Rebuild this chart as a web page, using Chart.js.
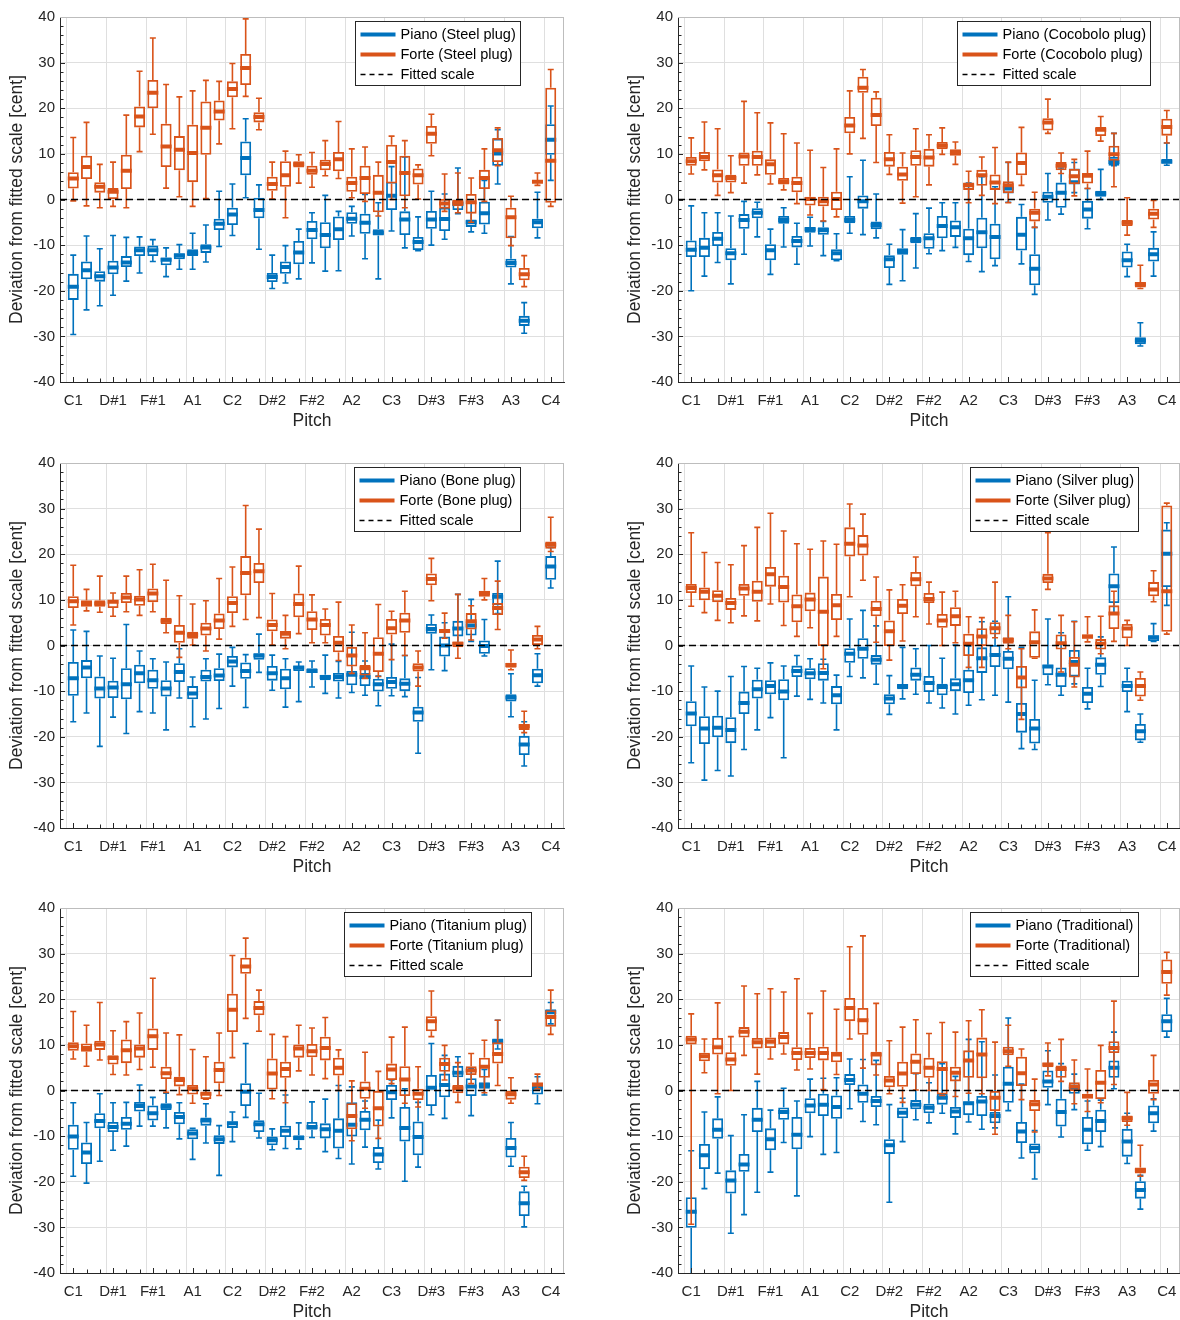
<!DOCTYPE html>
<html><head><meta charset="utf-8">
<script src="https://cdn.jsdelivr.net/npm/chart.js@4.4.1/dist/chart.umd.min.js"></script>
<style>
html,body{margin:0;padding:0;background:#fff;overflow:hidden;}
#wrap{position:relative;width:1180px;height:1320px;overflow:hidden;}
.cell{position:absolute;height:440px;}
canvas{display:block;}
</style></head><body>
<div id="wrap">
<div class="cell" style="left:0;top:0;width:590px"><canvas id="c0" width="590" height="440"></canvas></div>
<div class="cell" style="left:590px;top:0;width:600px"><canvas id="c1" width="600" height="440"></canvas></div>
<div class="cell" style="left:0;top:446px;width:590px"><canvas id="c2" width="590" height="440"></canvas></div>
<div class="cell" style="left:590px;top:446px;width:600px"><canvas id="c3" width="600" height="440"></canvas></div>
<div class="cell" style="left:0;top:891px;width:590px"><canvas id="c4" width="590" height="440"></canvas></div>
<div class="cell" style="left:590px;top:891px;width:600px"><canvas id="c5" width="600" height="440"></canvas></div>
</div>
<script>
// ---------- DATA ----------
const PITCHES = ['C1','C#1','D1','D#1','E1','F1','F#1','G1','G#1','A1','A#1','B1',
  'C2','C#2','D2','D#2','E2','F2','F#2','G2','G#2','A2','A#2','B2',
  'C3','C#3','D3','D#3','E3','F3','F#3','G3','G#3','A3','A#3','B3','C4'];
const TICK_LABELS = ['C1','D#1','F#1','A1','C2','D#2','F#2','A2','C3','D#3','F#3','A3','C4'];
const FITTED_SCALE = 0;
// each row: [lower whisker, Q1, median, Q3, upper whisker] in cent, one row per pitch
const steelPiano = [[-29.6,-22.0,-19.1,-16.3,-12.2],[-24.2,-17.5,-15.5,-13.6,-8.0],[-23.3,-18.0,-16.8,-15.7,-10.8],[-21.0,-16.4,-14.9,-13.4,-7.9],[-17.9,-14.8,-13.8,-12.4,-8.3],[-16.1,-12.4,-11.1,-10.3,-8.2],[-13.6,-12.4,-11.1,-10.1,-8.8],[-16.9,-14.4,-13.2,-12.7,-10.6],[-15.3,-13.1,-12.3,-11.8,-9.9],[-15.3,-12.4,-11.7,-10.9,-7.4],[-13.7,-11.7,-10.5,-9.8,-5.6],[-10.3,-6.7,-5.3,-4.2,1.8],[-7.9,-5.6,-3.3,-1.8,3.4],[0.4,5.3,9.1,12.7,17.7],[-10.9,-4.1,-2.3,0.4,3.2],[-19.5,-18.1,-17.0,-16.1,-12.2],[-18.3,-16.3,-14.8,-13.6,-10.1],[-17.4,-14.2,-11.6,-9.1,-6.5],[-13.9,-8.7,-6.7,-4.7,-2.9],[-15.7,-10.7,-7.8,-5.0,0.9],[-15.6,-8.9,-6.5,-3.7,-2.6],[-8.0,-5.3,-4.2,-2.8,-1.5],[-13.0,-7.5,-5.1,-3.1,1.1],[-17.4,-7.9,-7.3,-6.5,-0.7],[-6.9,-2.3,0.8,3.9,7.2],[-10.6,-7.8,-4.4,-2.6,9.3],[-11.2,-11.1,-9.3,-8.2,-3.8],[-10.0,-6.4,-4.4,-2.5,1.8],[-8.7,-6.9,-4.3,-1.8,1.2],[-3.1,-2.3,-1.0,-0.1,6.9],[-7.1,-6.0,-5.0,-4.4,-0.5],[-7.4,-5.5,-3.0,-0.5,4.2],[3.4,7.4,10.1,13.3,15.3],[-18.5,-14.9,-13.9,-13.0,-8.1],[-29.3,-27.7,-26.6,-25.5,-22.6],[-8.4,-6.3,-5.0,-4.2,1.6],[4.2,9.8,13.1,16.5,20.5]];
const steelForte = [[-0.3,2.4,4.6,6.0,13.6],[-1.4,4.5,7.1,9.6,16.9],[-1.8,1.5,2.8,3.8,7.7],[-1.5,0.0,1.7,2.5,8.2],[-1.8,2.3,6.3,9.8,18.5],[10.5,15.8,18.2,20.4,28.1],[14.3,20.0,23.4,26.2,35.4],[2.5,7.1,11.6,16.6,25.2],[0.6,6.4,10.9,13.9,22.5],[-1.5,3.8,10.2,16.4,23.8],[0.2,9.8,15.7,21.5,26.1],[12.2,17.3,19.3,21.7,25.9],[15.5,22.4,24.2,25.9,29.8],[22.6,25.1,28.8,31.9,39.6],[15.3,16.9,18.1,19.1,22.2],[0.1,1.9,3.4,5.0,8.2],[-4.0,2.8,5.3,8.4,10.6],[3.6,7.0,7.7,8.4,9.8],[2.7,5.4,6.3,7.4,10.3],[5.2,6.4,7.8,8.7,12.9],[4.6,6.2,8.8,10.4,17.1],[0.4,1.7,3.6,5.0,11.1],[-0.4,1.2,4.7,7.4,11.5],[-3.6,-2.8,1.5,5.4,8.2],[0.0,3.5,8.2,12.0,13.9],[-1.8,0.7,5.8,9.6,12.9],[0.1,3.3,5.3,6.8,7.6],[9.6,12.2,14.4,16.1,18.7],[-2.6,-2.0,-0.9,0.1,5.6],[-2.9,-1.5,-0.7,0.0,5.8],[-5.0,-3.1,-0.6,1.2,4.7],[-0.4,2.3,4.7,6.5,11.1],[7.4,8.2,10.8,13.5,15.7],[-10.1,-8.5,-3.9,-1.8,0.7],[-19.1,-17.7,-16.4,-15.0,-12.3],[3.1,3.6,3.9,4.2,5.8],[-1.5,-0.7,8.5,24.5,28.5]];
const cocoboloPiano = [[-20.0,-12.6,-11.0,-9.0,-1.4],[-16.8,-12.6,-10.6,-8.4,-2.9],[-13.8,-10.2,-8.6,-7.1,-2.9],[-18.5,-13.3,-11.8,-10.7,-3.6],[-12.0,-6.4,-4.5,-3.2,-0.4],[-8.2,-4.1,-2.9,-1.9,-0.6],[-16.4,-13.3,-11.1,-9.8,-6.5],[-10.4,-5.3,-4.5,-3.6,-1.8],[-14.2,-10.5,-9.1,-8.0,-5.2],[-10.2,-7.3,-6.5,-6.0,-3.9],[-12.3,-7.7,-6.7,-6.1,-4.8],[-13.4,-13.3,-11.8,-10.9,-7.5],[-7.4,-5.2,-4.5,-3.6,5.0],[-7.7,-2.0,-0.4,0.9,8.6],[-8.4,-6.5,-5.6,-4.8,1.2],[-18.6,-15.0,-13.1,-12.2,-9.8],[-17.8,-12.1,-11.3,-10.7,-6.6],[-15.0,-9.6,-8.9,-8.2,-3.1],[-11.9,-10.8,-8.5,-7.4,-1.9],[-11.2,-8.5,-5.8,-3.6,-0.7],[-10.5,-8.2,-6.1,-4.6,-0.7],[-13.6,-12.2,-8.5,-6.4,3.6],[-15.8,-10.7,-7.2,-4.0,5.0],[-14.5,-13.1,-8.2,-5.3,2.8],[-0.6,1.3,2.4,2.8,8.1],[-14.1,-11.2,-7.7,-3.8,-1.1],[-20.8,-18.8,-15.2,-12.0,-6.1],[-4.5,-0.7,0.6,1.7,5.7],[-3.2,-1.8,1.5,3.7,6.9],[1.5,3.4,3.8,6.8,8.1],[-6.4,-4.2,-2.2,-0.3,2.4],[0.0,0.6,1.3,1.9,6.6],[7.4,7.4,8.2,9.3,14.5],[-16.9,-14.9,-13.3,-11.4,-9.8],[-32.1,-31.7,-30.9,-30.2,-27.0],[-16.8,-13.6,-12.0,-10.6,-7.1],[7.5,7.9,8.3,8.9,12.4]];
const cocoboloForte = [[5.6,7.4,8.4,9.3,13.5],[6.5,8.4,9.3,10.4,17.0],[0.9,3.7,5.3,6.6,15.5],[1.5,3.7,4.7,5.4,9.6],[3.6,7.4,9.4,10.3,21.5],[5.4,7.4,9.3,10.7,19.0],[3.4,5.4,7.7,8.8,16.8],[2.1,3.3,3.9,4.7,14.4],[-0.9,1.6,3.6,5.0,12.4],[-3.4,-1.3,0.1,0.6,10.8],[-4.7,-1.5,-0.4,0.6,7.0],[-3.8,-2.3,0.1,1.7,11.1],[10.0,14.5,16.2,18.1,23.8],[13.4,23.4,24.5,26.9,28.5],[8.1,16.1,18.5,22.3,23.6],[5.5,7.2,8.8,10.4,14.2],[-0.8,4.1,5.5,7.2,10.2],[0.6,7.4,9.3,10.8,15.5],[3.2,7.2,9.2,11.1,14.2],[9.9,11.0,11.8,12.6,15.7],[7.7,9.6,10.3,11.0,12.6],[-0.7,2.1,3.1,3.7,6.2],[0.9,3.0,5.3,6.5,9.3],[-0.9,2.1,3.7,5.5,11.4],[-0.7,1.4,3.1,4.0,8.2],[3.1,5.3,8.0,10.3,15.8],[-6.1,-4.8,-2.9,-2.0,1.6],[14.5,15.1,16.9,17.8,22.0],[5.7,6.4,7.4,8.2,10.2],[0.8,3.4,5.1,6.7,8.8],[2.4,3.5,5.2,5.8,10.6],[12.8,13.9,15.3,15.9,18.2],[2.8,8.5,9.9,11.8,14.5],[-7.8,-5.8,-5.1,-4.5,0.4],[-19.5,-19.3,-18.6,-18.1,-14.4],[-6.1,-4.4,-3.1,-2.0,-0.2],[12.4,14.0,15.9,17.7,19.5]];
const bonePiano = [[-16.7,-11.0,-7.2,-3.6,3.4],[-14.8,-7.2,-4.8,-3.2,3.1],[-22.1,-11.6,-9.4,-6.8,-2.3],[-15.7,-11.5,-9.2,-7.7,-2.8],[-19.3,-11.8,-8.5,-5.0,4.6],[-14.5,-8.3,-6.1,-4.2,-1.2],[-14.8,-9.5,-7.6,-5.3,-2.9],[-18.5,-11.2,-9.4,-7.6,-3.6],[-11.5,-8.0,-5.8,-3.9,-0.7],[-17.8,-11.8,-10.5,-8.9,-6.9],[-16.1,-7.9,-6.9,-5.3,-2.9],[-13.8,-7.8,-6.6,-5.0,-1.9],[-8.9,-4.8,-3.5,-2.3,-0.4],[-13.6,-7.3,-5.6,-3.7,-2.0],[-5.9,-3.1,-2.2,-1.7,2.5],[-9.8,-7.7,-6.1,-4.5,-2.1],[-13.5,-9.6,-7.2,-5.1,-2.9],[-12.3,-5.6,-4.8,-4.5,-3.6],[-9.1,-6.0,-5.6,-5.0,-3.4],[-10.5,-7.6,-6.9,-6.4,-2.1],[-11.5,-7.9,-6.9,-6.0,-3.5],[-10.3,-8.7,-6.4,-5.6,2.9],[-10.9,-8.9,-6.9,-6.0,-3.4],[-13.2,-10.1,-8.5,-7.3,-6.7],[-11.0,-9.5,-8.0,-6.9,0.3],[-11.2,-10.0,-8.4,-7.2,-2.2],[-23.6,-16.7,-14.7,-13.4,-7.0],[-5.3,2.6,3.6,4.7,6.7],[-5.5,-2.4,0.0,2.0,5.0],[0.4,2.0,3.7,5.4,11.2],[0.9,2.2,4.4,5.3,10.1],[-2.3,-1.8,-0.1,1.1,5.7],[7.0,8.8,10.7,11.5,18.5],[-15.6,-12.3,-11.4,-10.7,-6.2],[-26.4,-24.0,-21.7,-19.8,-16.7],[-8.9,-8.3,-6.5,-5.1,-1.8],[12.6,14.4,17.3,19.6,21.5]];
const boneForte = [[4.5,8.2,9.7,10.8,17.6],[7.6,8.5,9.2,9.9,12.3],[7.3,8.5,9.2,9.9,15.2],[6.4,8.2,9.6,10.0,11.5],[7.4,9.3,10.5,11.5,15.2],[6.6,8.7,10.1,10.9,16.6],[7.4,9.5,11.4,12.5,17.8],[2.8,4.7,5.4,6.1,14.3],[-2.6,0.6,2.8,4.5,10.9],[0.1,1.5,2.3,3.0,9.1],[-1.2,2.2,3.7,5.0,9.8],[1.4,3.6,5.5,7.0,14.7],[4.2,7.1,9.3,10.8,17.2],[5.7,11.0,15.9,19.6,30.7],[6.1,13.7,16.3,18.1,25.5],[0.1,3.1,4.5,5.7,11.4],[-0.7,1.5,2.6,3.2,6.6],[2.6,6.2,9.1,11.4,17.4],[0.6,3.4,5.7,7.5,11.1],[0.6,2.2,4.5,5.8,8.0],[-3.3,-1.5,0.6,2.1,9.5],[-6.1,-4.6,-2.2,-0.3,4.5],[-7.2,-6.6,-5.0,-4.3,2.8],[-6.8,-5.8,-1.8,1.8,9.0],[-3.1,2.4,3.8,5.8,7.5],[-2.2,2.8,5.5,7.2,11.9],[-8.9,-5.7,-4.8,-3.9,-1.2],[9.8,13.2,14.6,15.8,19.1],[1.6,2.7,3.2,3.6,7.1],[-2.8,-0.4,0.4,0.9,11.2],[1.2,3.5,5.3,7.1,8.7],[10.0,10.7,11.5,12.0,14.7],[3.5,6.7,8.2,9.3,14.1],[-5.3,-4.9,-4.3,-3.8,-1.0],[-19.1,-18.5,-17.7,-17.2,-14.4],[-0.7,0.0,1.3,2.3,4.2],[20.6,21.2,22.1,22.8,28.1]];
const silverPiano = [[-25.7,-17.7,-14.9,-12.2,-4.5],[-29.5,-21.6,-18.2,-15.5,-9.1],[-27.4,-20.1,-18.0,-15.4,-10.0],[-28.6,-21.4,-18.5,-15.7,-6.8],[-22.8,-15.0,-12.6,-10.1,-4.6],[-18.5,-11.6,-9.6,-7.5,-5.0],[-15.8,-10.7,-8.9,-7.6,-3.8],[-24.6,-12.0,-10.1,-7.4,-4.5],[-11.1,-6.9,-5.6,-4.4,-2.2],[-11.8,-7.4,-6.1,-5.0,-2.9],[-12.6,-7.7,-6.0,-3.9,-3.0],[-18.5,-12.9,-10.9,-8.9,-6.5],[-6.8,-3.8,-1.8,-0.6,5.8],[-7.1,-2.9,-0.7,1.6,7.7],[-8.5,-4.2,-3.1,-2.1,4.3],[-15.1,-12.9,-11.6,-10.7,-6.6],[-11.7,-9.6,-8.9,-8.5,-0.4],[-10.7,-7.7,-6.4,-4.8,-0.7],[-12.6,-10.2,-8.2,-6.7,0.0],[-13.7,-10.9,-9.1,-8.4,-2.8],[-15.0,-10.0,-8.5,-7.2,0.1],[-13.1,-10.4,-7.6,-5.3,-0.1],[-11.9,-6.0,-2.8,-0.4,5.2],[-10.9,-4.7,-2.1,0.1,5.3],[-12.4,-5.2,-2.9,-1.2,10.7],[-22.6,-19.1,-15.0,-12.6,-0.4],[-22.8,-21.5,-18.2,-16.1,-7.6],[-8.6,-6.5,-4.6,-4.2,5.8],[-10.9,-9.1,-6.4,-4.8,2.8],[-8.4,-6.8,-3.6,-1.0,5.3],[-13.9,-12.6,-10.6,-9.1,-5.0],[-9.0,-6.4,-4.2,-2.6,1.9],[7.1,9.3,13.0,15.8,21.6],[-14.5,-10.2,-8.9,-7.7,-5.0],[-21.2,-20.8,-18.8,-17.2,-15.0],[0.9,1.0,1.8,2.2,4.8],[8.8,12.8,20.1,25.4,26.9]];
const silverForte = [[8.6,11.5,12.6,13.5,24.7],[7.2,9.9,11.8,12.7,20.4],[5.5,9.5,10.9,12.1,18.2],[5.0,7.8,9.3,10.4,17.7],[6.5,10.9,12.5,13.5,21.9],[5.4,9.6,11.8,14.2,25.9],[9.1,12.9,15.6,17.2,29.0],[4.4,9.4,12.8,15.3,25.1],[2.0,5.1,8.6,11.2,22.3],[3.9,7.5,10.1,11.6,21.1],[-5.1,-0.1,7.4,15.1,22.9],[2.0,5.6,8.8,11.3,22.2],[10.7,19.5,22.3,25.9,31.0],[14.3,19.7,21.9,24.2,28.8],[0.7,6.4,8.0,9.8,15.0],[-3.2,-0.1,3.1,5.5,12.2],[1.0,6.9,8.7,10.2,13.3],[6.3,13.0,14.5,16.1,19.4],[4.7,9.3,10.2,11.5,13.9],[0.0,3.9,5.5,6.9,11.7],[0.6,4.3,6.4,8.4,11.9],[-4.8,-2.3,0.4,2.6,6.3],[-4.8,-0.1,2.0,3.8,6.1],[1.7,2.4,3.8,5.1,13.9],[-0.7,0.4,1.2,1.8,6.6],[-16.2,-9.4,-7.0,-4.5,-0.7],[-2.8,-2.7,0.7,3.1,7.8],[12.3,13.7,14.7,15.7,24.7],[-5.8,-0.9,0.5,2.4,6.6],[-9.1,-7.0,-4.2,-2.5,5.2],[0.8,1.5,2.0,2.4,6.3],[-1.8,-0.9,0.4,1.4,6.4],[0.9,3.6,7.0,8.8,11.9],[0.0,1.6,3.7,4.7,5.5],[-12.0,-11.2,-8.9,-7.1,-5.8],[9.6,10.8,12.3,13.9,16.4],[2.5,3.0,11.9,30.7,31.2]];
const titaniumPiano = [[-18.8,-13.0,-10.1,-7.5,-2.7],[-20.3,-16.1,-13.6,-11.4,-7.0],[-15.5,-8.3,-6.7,-5.0,-0.7],[-13.1,-9.1,-8.0,-6.9,-2.7],[-12.2,-8.6,-7.3,-5.8,-2.6],[-7.8,-4.6,-3.4,-2.5,1.2],[-7.8,-6.6,-5.0,-3.3,-1.5],[-8.2,-4.3,-3.5,-2.8,-0.6],[-10.6,-7.4,-5.8,-4.7,-2.7],[-15.1,-10.7,-9.4,-8.5,-8.3],[-11.5,-7.7,-6.6,-5.9,-2.9],[-18.6,-11.7,-10.7,-9.8,-7.7],[-11.2,-8.2,-7.2,-6.8,-4.7],[-5.9,-3.4,-0.3,1.6,10.3],[-10.4,-9.1,-7.4,-6.5,-0.6],[-13.0,-12.0,-10.9,-10.1,-8.4],[-12.7,-10.2,-8.8,-7.7,-1.0],[-12.8,-10.9,-10.4,-9.8,-7.1],[-10.3,-8.6,-8.0,-6.9,-2.5],[-13.4,-10.5,-8.5,-7.2,-1.9],[-14.9,-12.7,-8.8,-6.1,1.1],[-16.1,-10.1,-7.5,-2.6,0.8],[-12.4,-8.7,-6.4,-4.5,-2.3],[-17.2,-15.9,-14.0,-12.4,-6.5],[-6.0,-2.1,-0.4,1.2,2.3],[-19.9,-11.2,-8.2,-3.6,0.4],[-16.8,-14.2,-10.2,-6.8,-2.6],[-5.3,-3.4,0.6,3.4,10.3],[-6.1,-1.5,1.2,3.7,7.7],[0.6,2.9,3.9,5.4,7.4],[-5.5,-1.2,0.9,2.7,4.8],[-1.0,0.4,1.2,1.8,4.6],[9.1,10.1,10.8,11.4,15.4],[-16.6,-14.7,-12.6,-10.4,-7.0],[-29.9,-27.5,-24.7,-22.1,-21.0],[-2.9,-0.9,0.6,1.5,3.0],[14.6,16.2,17.2,17.8,19.3]];
const titaniumForte = [[6.9,8.7,9.7,10.6,17.3],[5.3,8.5,9.3,10.3,14.3],[6.7,8.9,10.1,10.9,19.3],[3.5,5.7,7.1,7.7,13.1],[3.4,6.0,8.8,11.2,15.1],[4.6,7.2,9.2,10.1,17.0],[5.1,8.9,11.9,13.6,24.6],[-0.4,2.5,3.8,5.2,12.6],[-0.9,0.9,2.3,3.0,12.2],[-2.8,-0.9,0.4,1.2,9.0],[-1.9,-1.9,-0.7,-0.4,7.4],[-1.1,1.6,4.5,6.3,12.6],[7.2,12.8,17.7,21.2,29.6],[15.8,25.6,27.2,29.1,33.4],[13.0,16.5,18.1,19.6,22.0],[-1.8,0.2,3.7,7.0,12.3],[-2.7,2.8,4.7,6.3,11.8],[4.3,7.2,9.2,10.1,14.3],[3.4,7.3,8.6,10.2,13.7],[2.6,6.6,9.3,11.8,16.0],[0.0,3.3,5.0,7.2,8.9],[-11.0,-8.5,-5.6,-2.8,2.1],[-3.9,-1.8,0.4,2.0,8.4],[-10.5,-7.9,-3.9,-0.1,4.2],[1.5,2.3,4.6,5.9,11.7],[-2.8,-1.2,2.4,5.3,13.9],[-3.6,-2.1,-0.7,0.4,5.2],[11.8,13.0,15.2,16.3,21.8],[2.3,4.1,5.8,7.2,9.9],[-2.6,-0.6,0.5,1.2,6.1],[1.5,3.4,4.4,5.3,8.1],[-0.5,2.8,5.2,7.2,11.0],[1.1,5.9,8.0,10.6,15.4],[-2.8,-2.0,-0.8,-0.1,2.8],[-19.7,-19.2,-17.9,-16.7,-14.4],[0.4,0.9,1.3,1.7,3.6],[12.3,14.0,16.1,17.6,22.0]];
const traditionalPiano = [[-41.0,-30.1,-26.6,-23.4,-13.2],[-21.5,-17.2,-14.2,-11.7,-4.7],[-18.1,-10.6,-8.6,-6.1,-1.4],[-31.3,-22.6,-19.7,-17.5,-9.9],[-27.2,-17.8,-16.2,-13.9,-5.3],[-22.3,-9.1,-6.4,-3.8,2.0],[-17.9,-13.1,-10.7,-8.3,-4.3],[-11.4,-6.4,-4.7,-3.7,0.5],[-23.1,-12.9,-9.7,-5.8,-2.3],[-10.1,-5.0,-3.3,-1.7,2.5],[-14.0,-5.6,-3.1,-0.7,2.7],[-13.6,-6.2,-3.6,-1.1,2.8],[-4.0,1.2,2.3,3.6,6.9],[-6.8,-2.7,-0.7,1.3,6.8],[-7.5,-3.6,-2.3,-1.2,6.6],[-24.5,-13.9,-12.0,-10.7,-3.1],[-11.2,-6.1,-4.9,-3.7,-1.7],[-6.4,-4.1,-3.1,-2.1,3.7],[-7.1,-5.0,-3.8,-2.9,1.7],[-5.0,-3.1,-1.6,-0.7,5.9],[-9.5,-6.0,-4.6,-3.6,3.1],[-6.9,-5.4,-2.8,-2.4,11.2],[-8.5,-5.6,-2.4,-1.2,10.7],[-8.2,-7.2,-5.6,-4.7,3.4],[-4.4,-2.7,1.5,5.2,15.9],[-14.8,-11.5,-9.0,-6.9,1.4],[-19.4,-13.8,-12.6,-11.6,-8.8],[-3.1,0.6,2.0,4.4,8.7],[-10.2,-7.9,-4.7,-1.8,5.9],[-4.2,-0.7,0.4,1.3,3.6],[-13.1,-11.8,-8.6,-5.8,-2.3],[-12.3,-9.1,-6.7,-4.2,-2.1],[0.4,2.8,5.0,6.6,12.8],[-16.0,-14.5,-11.2,-8.4,-5.0],[-26.0,-23.7,-21.8,-19.9,-18.6],[-8.9,-7.2,-5.0,-3.3,-1.8],[11.7,12.8,15.2,16.7,20.2]];
const traditionalForte = [[-29.3,10.1,11.2,12.0,16.8],[3.9,6.4,7.5,8.3,11.3],[-0.7,7.9,9.5,11.5,19.2],[0.0,5.4,6.8,8.4,11.8],[7.7,11.6,12.9,13.9,22.9],[3.6,9.2,10.6,11.5,21.2],[6.9,9.3,10.7,11.6,22.3],[8.0,10.1,11.7,12.8,21.6],[4.5,6.7,8.2,9.5,24.5],[4.7,7.1,8.2,9.3,16.9],[0.2,6.6,8.2,9.6,21.8],[3.5,6.2,7.9,8.5,17.8],[11.3,15.2,18.1,20.3,31.5],[4.9,12.2,15.4,18.1,33.9],[3.4,5.5,7.9,8.5,19.1],[-0.7,0.7,2.2,3.2,10.9],[-2.6,0.8,3.7,6.3,13.9],[0.1,3.6,6.3,8.1,15.5],[0.0,2.8,5.0,7.2,12.5],[-1.1,-0.9,4.7,6.4,14.9],[-1.3,2.0,3.9,5.2,12.8],[-0.6,2.8,6.6,8.8,15.3],[-0.7,2.7,7.9,11.6,17.7],[-9.6,-4.5,-1.6,0.0,10.6],[5.3,7.7,8.6,9.6,14.3],[-2.0,1.0,3.8,7.4,9.1],[-9.1,-4.5,-3.0,-2.1,2.5],[3.2,5.1,5.7,6.1,10.4],[2.0,2.8,4.7,5.5,11.2],[-2.9,-0.1,0.9,1.8,6.7],[-4.6,-1.8,-1.2,-0.7,4.7],[-2.7,-1.9,1.7,4.5,9.9],[1.3,8.2,9.3,10.8,19.6],[-7.6,-6.9,-6.1,-5.5,-0.4],[-18.8,-18.2,-17.5,-16.9,-12.0],[-2.0,-0.7,1.3,2.3,7.7],[20.9,23.4,26.0,28.7,30.3]];

const PANELS = [
  {canvas:'c0', name:'Steel plug', piano:steelPiano, forte:steelForte, right:false},
  {canvas:'c1', name:'Cocobolo plug', piano:cocoboloPiano, forte:cocoboloForte, right:true},
  {canvas:'c2', name:'Bone plug', piano:bonePiano, forte:boneForte, right:false},
  {canvas:'c3', name:'Silver plug', piano:silverPiano, forte:silverForte, right:true},
  {canvas:'c4', name:'Titanium plug', piano:titaniumPiano, forte:titaniumForte, right:false},
  {canvas:'c5', name:'Traditional', piano:traditionalPiano, forte:traditionalForte, right:true}
];

// ---------- STYLE ----------
const BLUE = '#0072BD', ORANGE = '#D95319', AXIS = '#262626', GRID = '#dfdfdf';
const FONT = '"Liberation Sans", Arial, Helvetica, sans-serif';
Chart.defaults.font.family = FONT;
Chart.defaults.color = AXIS;

const LABELS = [''].concat(PITCHES, ['']);
const pad = a => [null].concat(a, [null]);
const isMajorX = i => i >= 1 && i <= PITCHES.length && TICK_LABELS.includes(PITCHES[i - 1]);

function seriesDatasets(rows, color, order, label) {
  const bar = {type:'bar', grouped:false, order, inflateAmount:0, borderWidth:0, backgroundColor:color};
  const pts = {type:'line', showLine:false, order, pointStyle:'line', borderColor:color, pointBorderColor:color, pointBackgroundColor:color, pointHoverRadius:0};
  return [
    Object.assign({}, bar, {label: label + ' lower whisker', data: pad(rows.map(r => [r[0], r[1]])), barThickness:1.6}),
    Object.assign({}, bar, {label: label + ' upper whisker', data: pad(rows.map(r => [r[3], r[4]])), barThickness:1.6}),
    Object.assign({}, bar, {label: label + ' box', data: pad(rows.map(r => [r[1], r[3]])), barThickness:11,
      backgroundColor:'rgba(255,255,255,0)', borderColor:color, borderWidth:1.8, borderSkipped:false}),
    Object.assign({}, pts, {label: label + ' lower cap', data: pad(rows.map(r => r[0])), pointRadius:3, pointBorderWidth:1.6}),
    Object.assign({}, pts, {label: label + ' upper cap', data: pad(rows.map(r => r[4])), pointRadius:3, pointBorderWidth:1.6}),
    Object.assign({}, pts, {label: label + ' median', data: pad(rows.map(r => r[2])), pointRadius:5.5, pointBorderWidth:4})
  ];
}

const framePlugin = {
  id: 'frameLegend',
  afterDatasetsDraw(chart) {
    const {ctx, chartArea: a} = chart;
    const xs = chart.scales.x, ys = chart.scales.y;
    ctx.save();
    ctx.strokeStyle = AXIS; ctx.lineWidth = 1;
    ctx.beginPath();
    for (let i = 1; i <= PITCHES.length; i++) {
      const px = Math.round(xs.getPixelForValue(i)) + 0.5;
      const len = isMajorX(i) ? 5 : 3.5;
      ctx.moveTo(px, a.bottom); ctx.lineTo(px, a.bottom - len);
    }
    for (let v = ys.min; v <= ys.max; v += 2) {
      const py = Math.round(ys.getPixelForValue(v)) + 0.5;
      const len = (v % 10 === 0) ? 5 : 3.5;
      ctx.moveTo(a.left, py); ctx.lineTo(a.left + len, py);
    }
    ctx.stroke();
    ctx.strokeStyle = '#bdbdbd';
    ctx.beginPath();
    ctx.moveTo(a.left, Math.round(a.top) + 0.5); ctx.lineTo(a.right, Math.round(a.top) + 0.5);
    ctx.moveTo(Math.round(a.right) - 0.5, a.top); ctx.lineTo(Math.round(a.right) - 0.5, a.bottom);
    ctx.stroke();
    ctx.restore();
  },
  afterDraw(chart, args, opts) {
    const items = opts.items || [];
    const {ctx, chartArea: a} = chart;
    ctx.save();
    ctx.font = '14.5px ' + FONT;
    const tw = Math.max.apply(null, items.map(it => ctx.measureText(it.text).width));
    const w = Math.round(45 + tw + 5), h = 64;
    const cx = a.left + (a.right - a.left) * 0.749;
    const x = Math.round(cx - w / 2) + 0.5, y = Math.round(a.top + 4) + 0.5;
    ctx.fillStyle = '#fff'; ctx.fillRect(x, y, w, h);
    ctx.strokeStyle = '#262626'; ctx.lineWidth = 1; ctx.strokeRect(x, y, w, h);
    items.forEach((it, i) => {
      const yy = y + 13 + i * 20;
      ctx.beginPath();
      ctx.strokeStyle = it.color;
      ctx.lineWidth = it.dash ? 1.5 : 4;
      ctx.setLineDash(it.dash || []);
      ctx.moveTo(x + 5, yy); ctx.lineTo(x + 40, yy);
      ctx.stroke();
      ctx.setLineDash([]);
      ctx.fillStyle = '#000';
      ctx.textBaseline = 'middle'; ctx.textAlign = 'left';
      ctx.fillText(it.text, x + 45, yy + 0.5);
    });
    ctx.restore();
  }
};

PANELS.forEach(p => {
  const datasets = []
    .concat(seriesDatasets(p.piano, BLUE, 2, 'Piano (' + p.name + ')'))
    .concat(seriesDatasets(p.forte, ORANGE, 1, 'Forte (' + p.name + ')'))
    .concat([{type:'line', label:'Fitted scale', data: LABELS.map(() => FITTED_SCALE), borderColor:'#000',
      borderWidth:1.6, borderDash:[7,4], pointRadius:0, pointHoverRadius:0, order:0, fill:false}]);
  new Chart(document.getElementById(p.canvas), {
    type: 'bar',
    data: {labels: LABELS, datasets},
    options: {
      responsive: false, animation: false, events: [],
      layout: {padding: {top: 17, left: p.right ? 28 : 0, right: p.right ? 0 : 26, bottom: 0}},
      plugins: {
        legend: {display: false}, tooltip: {enabled: false},
        frameLegend: {items: [
          {text: 'Piano (' + p.name + ')', color: BLUE},
          {text: 'Forte (' + p.name + ')', color: ORANGE},
          {text: 'Fitted scale', color: '#000', dash: [5, 4]}
        ]}
      },
      scales: {
        x: {
          type: 'category', offset: false,
          grid: {drawTicks: false, color: c => isMajorX(c.index) ? GRID : 'rgba(0,0,0,0)', lineWidth: 1},
          border: {color: AXIS, width: 1},
          ticks: {autoSkip: false, maxRotation: 0, minRotation: 0, padding: 10, color: AXIS, font: {size: 15},
            callback: (v, i) => isMajorX(i) ? PITCHES[i - 1] : ''},
          title: {display: true, text: 'Pitch', color: AXIS, font: {size: 17.5}, padding: {top: 0, bottom: 8.5}},
          afterFit: s => { s.height = 58; }
        },
        y: {
          type: 'linear', min: -40, max: 40,
          grid: {drawTicks: false, color: GRID, lineWidth: 1},
          border: {color: AXIS, width: 1},
          ticks: {stepSize: 10, padding: 5, color: AXIS, font: {size: 15}},
          title: {display: true, text: 'Deviation from fitted scale [cent]', color: AXIS, font: {size: 17.5}, padding: {top: 6.5, bottom: 0}},
          afterFit: s => { s.width = 60; }
        }
      }
    },
    plugins: [framePlugin]
  });
});
</script>
</body></html>
